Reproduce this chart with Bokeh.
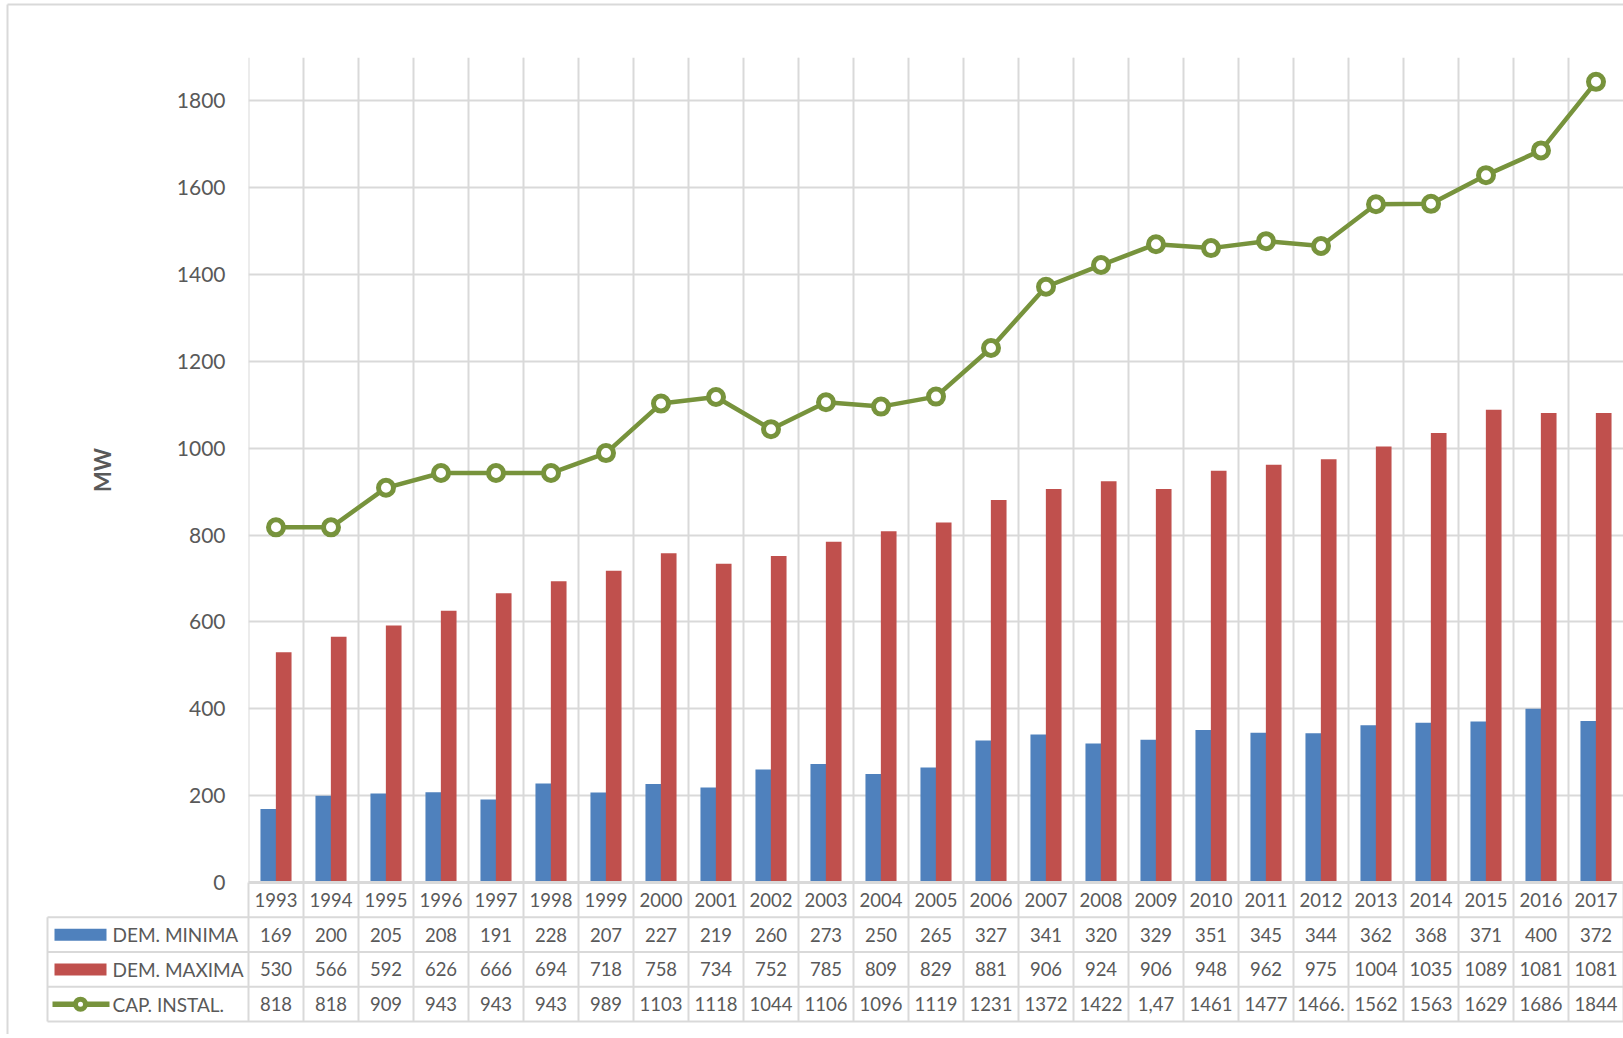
from bokeh.plotting import figure
from bokeh.models import Range1d, FixedTicker, Grid
from bokeh.core.properties import value
from bokeh.embed import file_html
from bokeh.resources import INLINE

# ---------------- data ----------------
years = ["1993", "1994", "1995", "1996", "1997", "1998", "1999", "2000", "2001",
         "2002", "2003", "2004", "2005", "2006", "2007", "2008", "2009", "2010",
         "2011", "2012", "2013", "2014", "2015", "2016", "2017"]
dem_min = [169, 200, 205, 208, 191, 228, 207, 227, 219, 260, 273, 250, 265,
           327, 341, 320, 329, 351, 345, 344, 362, 368, 371, 400, 372]
dem_max = [530, 566, 592, 626, 666, 694, 718, 758, 734, 752, 785, 809, 829,
           881, 906, 924, 906, 948, 962, 975, 1004, 1035, 1089, 1081, 1081]
cap_instal = [818, 818, 909, 943, 943, 943, 989, 1103, 1118, 1044, 1106, 1096,
              1119, 1231, 1372, 1422, 1470, 1461, 1477, 1466, 1562, 1563, 1629,
              1686, 1844]
cap_labels = ["818", "818", "909", "943", "943", "943", "989", "1103", "1118",
              "1044", "1106", "1096", "1119", "1231", "1372", "1422", "1,47",
              "1461", "1477", "1466.", "1562", "1563", "1629", "1686", "1844"]
series_names = ["DEM. MINIMA", "DEM. MAXIMA", "CAP. INSTAL."]
y_ticks = [0, 200, 400, 600, 800, 1000, 1200, 1400, 1600, 1800]
y_title = "MW"

# ---------------- style / layout ----------------
BLUE = "#4F81BD"
RED = "#C0504D"
GREEN = "#77933C"
GRID = "#D9D9D9"
TXT = "#595959"
FONT = "Lato"

W = 1623
H = 1034
CAT_W = 55.0        # px per category
FRAME_L = 248       # frame left
FRAME_T = 57        # frame top
ZERO_Y = 882        # pixel row of the zero line
FRAME_B = H - ZERO_Y
Y_MAX = 1900
FRAME_H = ZERO_Y - FRAME_T
K = FRAME_H / Y_MAX           # px per MW
ROW = 34.75 / K               # table row height in MW units

n = len(years)
xc = [i + 0.5 for i in range(n)]
x_end = (W - FRAME_L) / CAT_W


def px_x(px):
    """page pixel column -> data x (for table decorations left of the frame)"""
    return (px - FRAME_L) / CAT_W


p = figure(width=W, height=H, x_range=Range1d(0, x_end), y_range=Range1d(0, Y_MAX),
           output_backend="svg", toolbar_location=None, x_axis_location=None,
           min_border_left=FRAME_L, min_border_right=0, min_border_top=FRAME_T,
           min_border_bottom=FRAME_B)
p.outline_line_color = None
p.background_fill_color = "white"
p.border_fill_color = "white"

p.yaxis.ticker = FixedTicker(ticks=y_ticks)
p.yaxis.axis_line_color = None
p.yaxis.major_tick_line_color = None
p.yaxis.minor_tick_line_color = None
p.yaxis.major_label_standoff = 17
p.yaxis.major_label_text_font = FONT
p.yaxis.major_label_text_font_size = "21px"
p.yaxis.major_label_text_color = TXT
p.yaxis.axis_label = y_title
p.yaxis.axis_label_text_font = FONT
p.yaxis.axis_label_text_font_style = "bold"
p.yaxis.axis_label_text_font_size = "22px"
p.yaxis.axis_label_text_color = TXT
p.yaxis.axis_label_standoff = 58
p.ygrid.grid_line_color = GRID
p.ygrid.grid_line_width = 2

p.add_layout(Grid(dimension=0, ticker=FixedTicker(ticks=list(range(n + 1))),
                  grid_line_color=GRID, grid_line_width=2))

# bars and line
p.vbar(x=[x - 0.14 for x in xc], top=dem_min, width=0.285, fill_color=BLUE,
       line_color=None)
p.vbar(x=[x + 0.14 for x in xc], top=dem_max, width=0.285, fill_color=RED,
       line_color=None)
p.line(xc, cap_instal, line_color=GREEN, line_width=4.5)
p.scatter(xc, cap_instal, size=15, fill_color="white", line_color=GREEN,
          line_width=5)

# ---------------- data table (below the frame, not clipped) ----------------
A = "annotation"
xL = px_x(47)
bounds = list(range(n + 1))
p.segment(x0=bounds, y0=[0] * len(bounds), x1=bounds, y1=[-4 * ROW] * len(bounds),
          line_color=GRID, line_width=2, level=A)
p.segment(x0=[0], y0=[0], x1=[0], y1=[Y_MAX], line_color=GRID, line_width=2,
          level="underlay")
p.segment(x0=[xL], y0=[-ROW], x1=[xL], y1=[-4 * ROW], line_color=GRID,
          line_width=2, level=A)
p.segment(x0=[xL] * 4, y0=[-ROW, -2 * ROW, -3 * ROW, -4 * ROW],
          x1=[n] * 4, y1=[-ROW, -2 * ROW, -3 * ROW, -4 * ROW],
          line_color=GRID, line_width=2, level=A)
p.segment(x0=[0], y0=[0], x1=[n], y1=[0], line_color=GRID, line_width=3, level=A)

tf = value(FONT)
rows = [years, [str(v) for v in dem_min], [str(v) for v in dem_max], cap_labels]
for r, labels in enumerate(rows):
    p.text(x=xc, y=[-(r + 0.5) * ROW] * n, text=labels, text_font=tf,
           text_font_size="18.5px", text_color=TXT, text_align="center",
           text_baseline="middle", level=A)

# legend keys inside the table
kx = px_x(80)
p.rect(x=[kx, kx], y=[-1.5 * ROW, -2.5 * ROW], width=52 / CAT_W, height=12 / K,
       fill_color=[BLUE, RED], line_color=None, level=A)
p.segment(x0=[px_x(52)], y0=[-3.5 * ROW], x1=[px_x(109)], y1=[-3.5 * ROW],
          line_color=GREEN, line_width=5.5, level=A)
p.ellipse(x=[kx], y=[-3.5 * ROW], width=10, height=10, width_units="screen",
          height_units="screen", fill_color="white", line_color=GREEN,
          line_width=5, level=A)
p.text(x=[px_x(112)] * 3, y=[-1.5 * ROW, -2.5 * ROW, -3.5 * ROW],
       text=series_names, text_font=tf, text_font_size="19px", text_color=TXT,
       text_align="left", text_baseline="middle", level=A)

# outer chart-area border (left and top edges)
bx = px_x(7)
by = (FRAME_T - 4) / K + Y_MAX
p.segment(x0=[bx, bx], y0=[by, by], x1=[bx, x_end + 1], y1=[-(FRAME_B + 10) / K, by],
          line_color=GRID, line_width=2, level=A)

open("out.html", "w").write(file_html(p, INLINE))
